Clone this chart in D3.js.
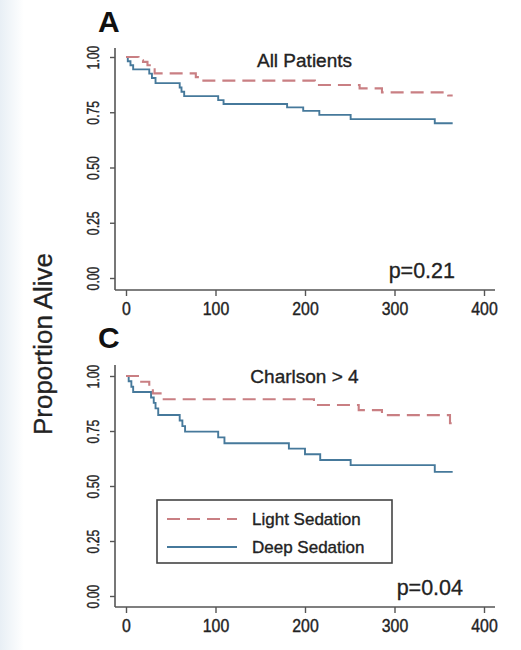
<!DOCTYPE html>
<html>
<head>
<meta charset="utf-8">
<script src="https://cdn.jsdelivr.net/npm/d3@7"></script>
<style>
  body { margin: 0; background: #fff; }
  svg { display: block; font-family: "Liberation Sans", Arial, Helvetica, sans-serif; }
</style>
</head>
<body>
<svg id="canvas"></svg>
<script>
// ticks
let xTicks = [0, 100, 200, 300, 400];
let yTicks = [0, 0.25, 0.5, 0.75, 1];

// Kaplan-Meier steps (days, proportion alive)
let allLightT = [0, 14, 19, 24, 29, 32, 78, 82, 211, 261, 286, 360, 365];
let allLightS = [1, 0.985, 0.978, 0.963, 0.944, 0.926, 0.909, 0.893, 0.873, 0.858, 0.84, 0.826, 0.826];
let allDeepT = [0, 2, 5, 8, 26, 29, 33, 60, 62, 65, 103, 109, 180, 198, 216, 251, 345, 365];
let allDeepS = [1, 0.981, 0.963, 0.944, 0.925, 0.905, 0.882, 0.862, 0.843, 0.823, 0.805, 0.787, 0.772, 0.756, 0.738, 0.719, 0.7, 0.7];

let chLightT = [0, 17, 26, 30, 40, 210, 260, 286, 362, 365];
let chLightS = [1, 0.974, 0.947, 0.921, 0.894, 0.868, 0.845, 0.822, 0.785, 0.785];
let chDeepT = [0, 3, 6, 8, 28, 31, 33, 36, 60, 63, 66, 103, 110, 182, 200, 217, 251, 345, 365];
let chDeepS = [1, 0.976, 0.951, 0.927, 0.902, 0.878, 0.853, 0.823, 0.798, 0.772, 0.747, 0.721, 0.694, 0.67, 0.644, 0.618, 0.595, 0.564, 0.564];

let seriesNames = ["Light Sedation", "Deep Sedation"];

let width = 521;
let height = 650;
let lightColor = "#c97f83";
let deepColor = "#46799b";
let axisColor = "#555";
let textColor = "#222";

let canvas = d3.select("#canvas").attr("width", width).attr("height", height);

// faint bluish left edge of the scanned page
let defs = canvas.append("defs");
let grad = defs.append("linearGradient").attr("id", "edge").attr("x1", 0).attr("x2", 1);
grad.append("stop").attr("offset", 0).attr("stop-color", "#e8eff5");
grad.append("stop").attr("offset", 1).attr("stop-color", "#ffffff");
canvas.append("rect").attr("width", width).attr("height", height).attr("fill", "#fff");
canvas.append("rect").attr("width", 24).attr("height", height).attr("fill", "url(#edge)");

let xScale = d3.scaleLinear().domain([0, 400]).range([126, 484]);

let panels = [
  { letter: "A", letterY: 32, title: "All Patients", titleY: 66.5, p: "p=0.21", pX: 455, pY: 278,
    axisTop: 48, axisY: 290, yRange: [278, 57],
    light: [allLightT, allLightS], deep: [allDeepT, allDeepS], legend: false },
  { letter: "C", letterY: 348, title: "Charlson > 4", titleY: 383, p: "p=0.04", pX: 463, pY: 595,
    axisTop: 365, axisY: 607, yRange: [596, 376],
    light: [chLightT, chLightS], deep: [chDeepT, chDeepS], legend: true }
];

let stepLine = (yScale) => d3.line()
  .x((d) => xScale(d[0]))
  .y((d) => yScale(d[1]))
  .curve(d3.curveStepAfter);

// slightly heavier text, like the blurry scan
let ink = (sel, w) => sel.attr("stroke", textColor).attr("stroke-width", w).attr("paint-order", "stroke");

let drawPanel = (pn) => {
  let yScale = d3.scaleLinear().domain([0, 1]).range(pn.yRange);
  let g = canvas.append("g");

  // y axis
  let yAxis = d3.axisLeft(yScale).tickValues(yTicks).tickFormat(d3.format(".2f")).tickSize(5);
  let ya = g.append("g").attr("transform", "translate(115,0)").call(yAxis);
  ya.select(".domain").remove();
  ya.selectAll("line").attr("stroke", axisColor).attr("stroke-width", 1.4);
  ya.selectAll("text")
    .attr("x", 0).attr("y", -16.5).attr("dy", 0)
    .attr("text-anchor", "middle")
    .attr("transform", "rotate(-90) scale(0.72,1)")
    .attr("font-size", 17).attr("fill", textColor)
    .call(ink, 0.4);
  g.append("line").attr("x1", 115).attr("x2", 115).attr("y1", pn.axisTop).attr("y2", pn.axisY)
    .attr("stroke", axisColor).attr("stroke-width", 1.6);

  // x axis
  let xAxis = d3.axisBottom(xScale).tickValues(xTicks).tickFormat(d3.format("d")).tickSize(6);
  let xa = g.append("g").attr("transform", "translate(0," + pn.axisY + ")").call(xAxis);
  xa.select(".domain").remove();
  xa.selectAll("line").attr("stroke", axisColor).attr("stroke-width", 1.4);
  xa.selectAll("text")
    .attr("y", 12).attr("dy", "0.71em")
    .attr("transform", "scale(0.88,1)")
    .attr("font-size", 18).attr("fill", textColor)
    .call(ink, 0.4);
  g.append("line").attr("x1", 115).attr("x2", 495).attr("y1", pn.axisY).attr("y2", pn.axisY)
    .attr("stroke", axisColor).attr("stroke-width", 1.6);

  // curves
  let line = stepLine(yScale);
  g.append("path").datum(d3.zip(pn.deep[0], pn.deep[1])).attr("d", line)
    .attr("fill", "none").attr("stroke", deepColor).attr("stroke-width", 1.9);
  g.append("path").datum(d3.zip(pn.light[0], pn.light[1])).attr("d", line)
    .attr("fill", "none").attr("stroke", lightColor).attr("stroke-width", 2.1)
    .attr("stroke-dasharray", "13,7");

  // texts
  g.append("text").attr("x", 98).attr("y", pn.letterY).text(pn.letter)
    .attr("font-size", 30).attr("font-weight", "bold").attr("fill", "#111");
  g.append("text").attr("x", 304.5).attr("y", pn.titleY).text(pn.title)
    .attr("text-anchor", "middle").attr("font-size", 19).attr("fill", textColor)
    .call(ink, 0.35);
  g.append("text").attr("x", pn.pX).attr("y", pn.pY).text(pn.p)
    .attr("text-anchor", "end").attr("font-size", 21.5).attr("fill", textColor)
    .call(ink, 0.3);

  if (pn.legend) {
    g.append("rect").attr("x", 157).attr("y", 500).attr("width", 235).attr("height", 63)
      .attr("fill", "#fff").attr("stroke", "#444").attr("stroke-width", 1.6);
    let rows = [
      { name: seriesNames[0], color: lightColor, dash: "13,7", y: 519 },
      { name: seriesNames[1], color: deepColor, dash: null, y: 547 }
    ];
    rows.forEach((r) => {
      g.append("line").attr("x1", 167).attr("x2", 237).attr("y1", r.y).attr("y2", r.y)
        .attr("stroke", r.color).attr("stroke-width", r.dash ? 2.1 : 1.9)
        .attr("stroke-dasharray", r.dash);
      g.append("text").attr("x", 252).attr("y", r.y + 5.5).text(r.name)
        .attr("font-size", 17).attr("fill", textColor)
        .call(ink, 0.35);
    });
  }
};

panels.forEach(drawPanel);

canvas.append("text")
  .attr("transform", "translate(52,344) rotate(-90)")
  .attr("text-anchor", "middle")
  .attr("font-size", 26).attr("fill", textColor)
  .call(ink, 0.3)
  .text("Proportion Alive");
</script>
</body>
</html>
